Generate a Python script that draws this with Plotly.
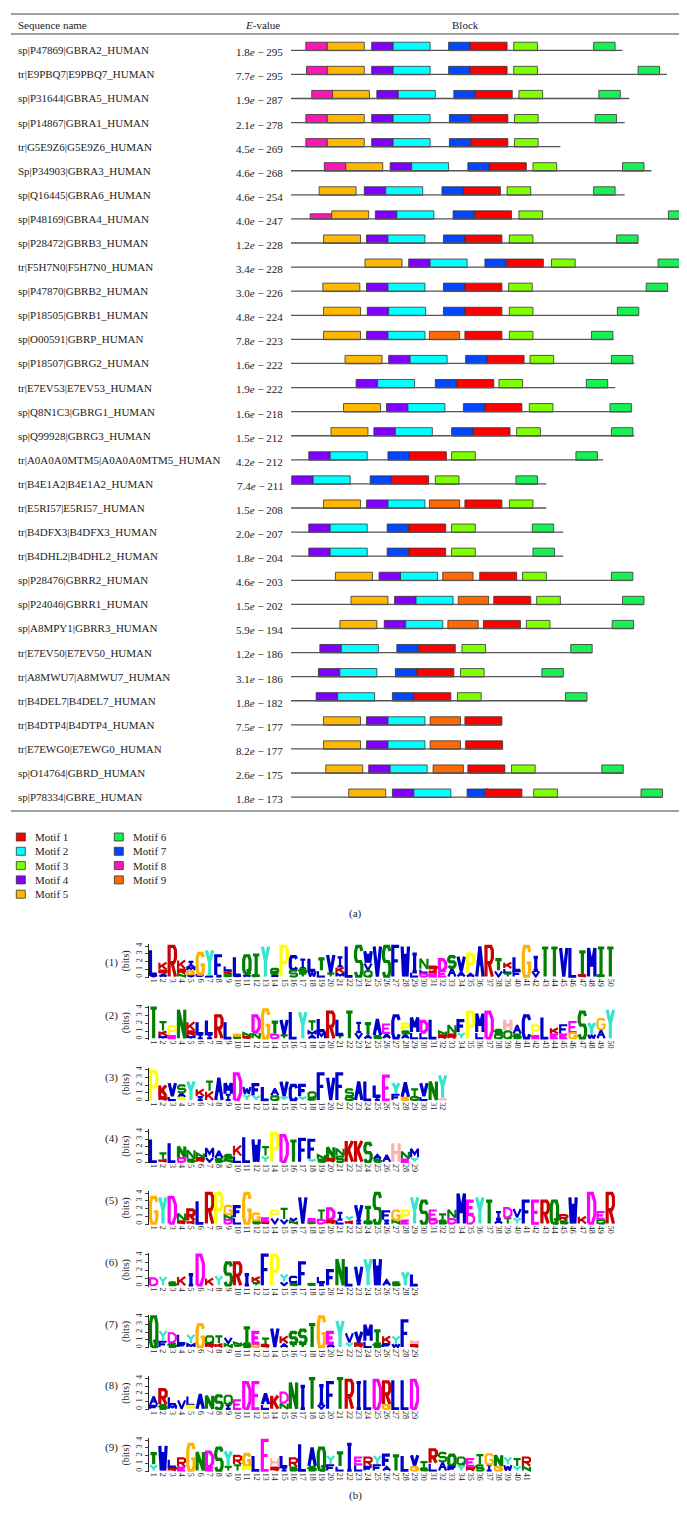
import re
import plotly.graph_objects as go

W, H = 687, 1517
SERIF = "Liberation Serif, Times New Roman, serif"

# ---------------- (a) motif blocks ----------------
seq_names = [
    "sp|P47869|GBRA2_HUMAN", "tr|E9PBQ7|E9PBQ7_HUMAN", "sp|P31644|GBRA5_HUMAN",
    "sp|P14867|GBRA1_HUMAN", "tr|G5E9Z6|G5E9Z6_HUMAN", "Sp|P34903|GBRA3_HUMAN",
    "sp|Q16445|GBRA6_HUMAN", "sp|P48169|GBRA4_HUMAN", "sp|P28472|GBRB3_HUMAN",
    "tr|F5H7N0|F5H7N0_HUMAN", "sp|P47870|GBRB2_HUMAN", "sp|P18505|GBRB1_HUMAN",
    "sp|O00591|GBRP_HUMAN", "sp|P18507|GBRG2_HUMAN", "tr|E7EV53|E7EV53_HUMAN",
    "sp|Q8N1C3|GBRG1_HUMAN", "sp|Q99928|GBRG3_HUMAN", "tr|A0A0A0MTM5|A0A0A0MTM5_HUMAN",
    "tr|B4E1A2|B4E1A2_HUMAN", "tr|E5RI57|E5RI57_HUMAN", "tr|B4DFX3|B4DFX3_HUMAN",
    "tr|B4DHL2|B4DHL2_HUMAN", "sp|P28476|GBRR2_HUMAN", "sp|P24046|GBRR1_HUMAN",
    "sp|A8MPY1|GBRR3_HUMAN", "tr|E7EV50|E7EV50_HUMAN", "tr|A8MWU7|A8MWU7_HUMAN",
    "tr|B4DEL7|B4DEL7_HUMAN", "tr|B4DTP4|B4DTP4_HUMAN", "tr|E7EWG0|E7EWG0_HUMAN",
    "sp|O14764|GBRD_HUMAN", "sp|P78334|GBRE_HUMAN",
]
e_values = [
    "1.8e-295", "7.7e-295", "1.9e-287", "2.1e-278", "4.5e-269", "4.6e-268", "4.6e-254",
    "4.0e-247", "1.2e-228", "3.4e-228", "3.0e-226", "4.8e-224", "7.8e-223", "1.6e-222",
    "1.9e-222", "1.6e-218", "1.5e-212", "4.2e-212", "7.4e-211", "1.5e-208", "2.0e-207",
    "1.8e-204", "4.6e-203", "1.5e-202", "5.9e-194", "1.2e-186", "3.1e-186", "1.8e-182",
    "7.5e-177", "8.2e-177", "2.6e-175", "1.8e-173",
]
seq_len = [448, 508, 457, 451, 364, 487, 451, 555, 469, 526, 508, 469, 436, 464, 438, 460,
           464, 422, 345, 345, 368, 368, 461, 475, 463, 406, 367, 400, 284, 284, 448, 500]

motif_len = [50, 50, 32, 29, 50, 29, 29, 29, 41]
motif_color = ["#FF0000", "#00FFFF", "#80FF00", "#8000FF", "#FFB800",
               "#19F055", "#0047FF", "#FF14B4", "#FF6A00"]

N_ = None
m1_start = [242, 242, 249, 243, 243, 268, 233, 248, 235, 291, 235, 235, 235, 265, 224, 262,
            246, 160, 136, 235, 159, 159, 255, 274, 260, 172, 170, 166, 235, 236, 239, 262]
m2_start = [138, 138, 145, 138, 138, 163, 128, 143, 131, 188, 131, 132, 131, 161, 117, 158,
            141, 53, 30, 131, 53, 53, 148, 169, 155, 68, 66, 63, 131, 131, 134, 166]
m3_start = [301, 301, 308, 302, 302, 327, 292, 308, 295, 352, 294, 295, 295, 323, 281, 322,
            305, 217, 195, 295, 217, 217, 313, 332, 318, 231, 229, 225, N_, N_, 298, 328]
m4_start = [109, 109, 116, 109, 109, 134, 99, 114, 102, 159, 102, 103, 102, 132, 88, 129,
            112, 24, 1, 102, 24, 24, 119, 140, 126, 39, 37, 34, 102, 102, 105, 137]
m5_start = [49, 49, 56, 49, 49, 74, 38, 55, 44, 100, 43, 44, 44, 73, N_, 71,
            54, N_, N_, 44, N_, N_, 60, 81, 66, N_, N_, N_, 44, 44, 47, 78]
m6_start = [409, 469, 416, 411, N_, 448, 409, 510, 440, 496, 480, 441, 406, 433, 399, 431,
            433, 385, 304, N_, 326, 327, 433, 448, 434, 378, 339, 371, N_, N_, 420, 473]
m7_start = [213, 213, 220, 214, 214, 239, 204, 219, 206, 262, 206, 206, N_, 236, 195, 233,
            217, 131, 107, N_, 130, 130, N_, N_, N_, 143, 141, 137, N_, N_, N_, 238]
m8_start = [20, 21, 28, 20, 20, 45, N_, 26] + [N_] * 24
m9_start = [N_] * 12 + [187] + [N_] * 6 + [187] + [N_] * 2 + [205, 226, 212] + [N_] * 3 + [188, 188, 192, N_]
motif_starts = [m1_start, m2_start, m3_start, m4_start, m5_start,
                m6_start, m7_start, m8_start, m9_start]
box_frac = {(8, 7): 0.65}          # the short motif-8 box of GBRA4
draw_order = [8, 5, 4, 2, 7, 9, 1, 3, 6]

# ---------------- (b) sequence logos (letters bottom -> top, bits) ----------------
logo1 = ["V.3L3.2", "A.4R.5K1", "R4", "N.4R.6K1.2", "V.3G.5M.6I.6", "F.3G2.8", "L.2Y3.3",
         "I.2F2.6", "S.3K.5L.6", "F.2L2.4", "A.4Q2.4", "S.3T2.6", "Y4", "A.3S.3Q.5", "P4",
         "S.9C1.8", "T.5S.6I1.2", "W.8L1.6", "L.8T1.6", "T.5V2.4", "M.5K.8I1.3", "L4", "S4",
         "Q.8V1W1.6", "V4", "S4", "F4", "W4", "L.6I2.4", "D.5L.5N1.4", "E.4K.5R.5", "E.8D1.5",
         "A1.2S1.5", "A.7V2", "A.5P2.5", "A4", "R4", "V.8T1.5", "T.5L.6K.8", "F.8L1.8", "G4",
         "V.8I1.8", "T3.8", "T3.8", "V3.8", "L3.8", "R.3T3", "M3.8", "S.3T3.5", "T3.8"]
logo2 = ["T4", "M.4K.6T1.2", "E.4P1.3", "N3.8", "M.4R.6K1.2", "I.6L1.6", "I.6L1.8", "R3",
         "L2.2", "S.3G.3", "R.3N.5", "N.8D2.2", "G3.8", "D.6T1.6", "T.5V2", "L3.5", "Y3.5",
         "A.5M.5T1.3", "M1L1.6", "R3.5", "T.5L2", "T3.5", "V.8I1.3", "A.5T1.5", "S.4A2.2",
         "A.7E1.2", "C3", "A.6S.4P1", "L.8M2", "L.8D1.5", "L2.5", "R.5N.5", "R.6N1.2",
         "Y.8F1.6", "P3.5", "L.8M2.5", "D3.5", "Q.6S.6", "Q1H1.5", "S.6A1.2", "C3", "E.4P1.4",
         "L2.8", "E.6K.8", "E.6F1.2", "G.8E1.4", "S3.5", "W.6Y1.5", "A1.2G1.4", "Y3.8"]
logo3 = ["P3.8", "R.5K1.5", "L.5V1.8", "P.4A.6S1", "Y2.5", "I.5K1", "K1.2T1.3", "A3",
         "I.8M1.5", "D3.5", "Y.8W1", "Y.6F1.5", "L1.8", "Q.6A1", "Y.5V2", "C2", "Y.5F1.5",
         "S.3Q.8", "F3.5", "V3", "F3.5", "Q.5S1", "A2.5", "L2.5", "I.5L1.5", "E3.2", "F.8Y1.5",
         "G.4A2", "Q.5T1", "L.5V1.8", "N2.5", "H.3Y3"]
logo4 = ["L3", "K.4T.8", "L2.5", "D.6N1.5", "S.4N1.2", "R.6N.6", "V.6M1.3", "S.5A1", "N.4S.6",
         "L.8K1.4", "L3.3", "W3", "Y.8T1.2", "P3.8", "D3.5", "T2.8", "F3", "Y.4F2.5", "S.4N.6",
         "R.5N1.5", "S.8N1", "K2.8", "K2.8", "S2.5", "S.4A.6", "A1", "H2.5", "E.4N1", "Y.6M1.2"]
logo5 = ["G3.5", "Y3.5", "D3.5", "R.4N1", "K.4R1.5", "L3", "R4", "P4", "D.6N.6G1.2", "L.8F1.5",
         "G4", "S.4G1", "R.3E.5", "V.8P1", "V.6T1.4", "N.4V.4", "V3.5", "S.3E.4", "D.6T1.2",
         "R.5D1.5", "L.5I1", "K.4Y.6", "I.5V2", "Q.4T1.8", "S4", "I.5F1.2", "N.5G1.3",
         "E.5P1.3", "Y3.5", "S3", "D.6E1.2", "S.5T.8", "D.7N1.2", "M4", "D1.2E1.8", "Y3.5",
         "T3", "A.6I1", "T.8D1.3", "Y.8V1.2", "F3", "E3", "R3", "Q3", "S.4R.8", "W3.5", "K1",
         "D4", "Q.6E1", "R4"]
logo6 = ["D1", "Y1.2", "S.5", "K1.2", "I1.5", "D4", "K1", "Y1.3", "S3", "R3", "I1.5", "T.4K.8",
         "F4", "P4", "V.5Y1", "S.4C.8", "F3", "S.3", "I.4L.8", "F2", "N3.5", "L2.5", "V2.5",
         "Y3.5", "W3.5", "A.8", "S.5", "Y1.8", "L1.5"]
logo7 = ["Q4", "F.8Y1.4", "S.6D1.3", "F.5L1.2", "M.5Y1.2", "G3", "R.5Q1", "K.5T1", "N.5V.8",
         "T.3N.4", "S.6T2", "G.5E1.5", "R.4T.8", "V2.5", "A.5K1", "T.5S1.5", "T.5S1.8", "T3",
         "G4", "A.5E1.5", "Y3.5", "Y.6V1.3", "R.6V1.5", "L.8M2.2", "S.6T1.6", "F.5K1",
         "W.5Y1", "F3.5", "R.4H.6"]
logo8 = ["F.5A1.2", "S.6R2", "M.6L1", "V1.2", "P.5L1.2", "A2", "N1.8", "S1.8", "I.6Q1.2",
         "E1.2", "D3.5", "E3.5", "L.6A1.5", "K1.8", "N.8D1.4", "N3.5", "I3", "T4", "V.6I2.5",
         "F3.5", "T4", "R3.8", "I3.5", "L3.8", "D3.8", "G.6R3", "L3.8", "L3.8", "D3.8"]
logo9 = ["Y.8T1.5", "W3.3", "R.5L1", "E.5R1.2", "G3.5", "N2.5", "E.5D2", "S3", "T.6Y2",
         "T.8R1.2", "P.6G1.6", "L2", "E4", "R.5H1.2", "I.5L1.5", "S.5R1.2", "L3.5", "S.6A2.5",
         "Q3", "F.8Y1.2", "L.6T1.8", "I3.5", "L.8E1", "F.6R1.2", "F.8Y1.2", "A.6F1.5", "T2",
         "L2", "G.6V1.5", "S.4T.8", "L1R1.8", "A1.2S1.2", "F.6Q1.5", "Y.8Q1", "R.6E1",
         "S.8T1.3", "I.8G1.4", "G.6N1.5", "W.8Y1", "Y.6T1", "N.6R1.2"]
logos = [logo1, logo2, logo3, logo4, logo5, logo6, logo7, logo8, logo9]

AA_COLOR = {}
for aa in "ACFILVWM":
    AA_COLOR[aa] = "#0000CC"
for aa in "NQST":
    AA_COLOR[aa] = "#008000"
for aa in "DE":
    AA_COLOR[aa] = "#FF00FF"
for aa in "KR":
    AA_COLOR[aa] = "#CC0000"
AA_COLOR.update({"G": "#FFB300", "P": "#FFFF00", "Y": "#33E6CC", "H": "#FFB0B0"})

# simple stroke font in a unit box
GLYPHS = {
    "A": [[(0, 0), (0.5, 1), (1, 0)], [(0.22, 0.42), (0.78, 0.42)]],
    "C": [[(1, 0.82), (0.8, 1), (0.2, 1), (0, 0.78), (0, 0.22), (0.2, 0), (0.8, 0), (1, 0.18)]],
    "D": [[(0, 0), (0, 1), (0.6, 1), (1, 0.72), (1, 0.28), (0.6, 0), (0, 0)]],
    "E": [[(1, 1), (0, 1), (0, 0), (1, 0)], [(0, 0.5), (0.8, 0.5)]],
    "F": [[(1, 1), (0, 1), (0, 0)], [(0, 0.52), (0.8, 0.52)]],
    "G": [[(1, 0.82), (0.8, 1), (0.2, 1), (0, 0.78), (0, 0.22), (0.2, 0), (0.8, 0), (1, 0.2),
           (1, 0.45), (0.55, 0.45)]],
    "H": [[(0, 0), (0, 1)], [(1, 0), (1, 1)], [(0, 0.5), (1, 0.5)]],
    "I": [[(0.5, 0), (0.5, 1)], [(0.15, 1), (0.85, 1)], [(0.15, 0), (0.85, 0)]],
    "K": [[(0, 0), (0, 1)], [(1, 1), (0, 0.35)], [(0.35, 0.58), (1, 0)]],
    "L": [[(0, 1), (0, 0), (1, 0)]],
    "M": [[(0, 0), (0, 1), (0.5, 0.35), (1, 1), (1, 0)]],
    "N": [[(0, 0), (0, 1), (1, 0), (1, 1)]],
    "P": [[(0, 0), (0, 1), (0.75, 1), (1, 0.88), (1, 0.6), (0.75, 0.46), (0, 0.46)]],
    "Q": [[(0.2, 0), (0, 0.22), (0, 0.78), (0.2, 1), (0.8, 1), (1, 0.78), (1, 0.22), (0.8, 0),
           (0.2, 0)], [(0.6, 0.25), (1, -0.05)]],
    "R": [[(0, 0), (0, 1), (0.75, 1), (1, 0.88), (1, 0.6), (0.75, 0.46), (0, 0.46)],
          [(0.45, 0.46), (1, 0)]],
    "S": [[(1, 0.85), (0.8, 1), (0.2, 1), (0, 0.82), (0, 0.62), (0.2, 0.5), (0.8, 0.5),
           (1, 0.38), (1, 0.18), (0.8, 0), (0.2, 0), (0, 0.15)]],
    "T": [[(0, 1), (1, 1)], [(0.5, 1), (0.5, 0)]],
    "V": [[(0, 1), (0.5, 0), (1, 1)]],
    "W": [[(0, 1), (0.22, 0), (0.5, 0.75), (0.78, 0), (1, 1)]],
    "Y": [[(0, 1), (0.5, 0.5), (1, 1)], [(0.5, 0.5), (0.5, 0)]],
}


def px(x):
    return x / W


def py(y):
    return 1 - y / H


fig = go.Figure()

# backbone lines
lx, ly = [], []
for i, L in enumerate(seq_len):
    lx += [0, L, None]
    ly += [i, i, None]
fig.add_trace(go.Scatter(x=lx, y=ly, mode="lines", line=dict(color="#555555", width=1.3),
                         hoverinfo="skip", showlegend=False))

for m in draw_order:
    starts = motif_starts[m - 1]
    ys = [i for i, s in enumerate(starts) if s is not None]
    fr = [box_frac.get((m, i), 1.0) for i in ys]
    fig.add_trace(go.Bar(
        orientation="h", y=ys, base=[starts[i] for i in ys], x=[motif_len[m - 1]] * len(ys),
        width=[0.35 * f for f in fr], offset=[0.015 - 0.35 * f for f in fr],
        marker=dict(color=motif_color[m - 1], line=dict(color="#333333", width=0.8)),
        showlegend=False, hoverinfo="skip"))

ROW0, ROWH, A_BOTTOM = 42.3, 24.09, 830
layout = dict(
    width=W, height=H, margin=dict(l=0, r=0, t=0, b=0),
    paper_bgcolor="white", plot_bgcolor="white", showlegend=False, barmode="overlay",
    font=dict(family=SERIF, size=11, color="#222222"),
    xaxis=dict(domain=[px(283), 1], range=[0, (W - 283) / 0.74], visible=False),
    yaxis=dict(domain=[py(A_BOTTOM), 1], visible=False,
               range=[(A_BOTTOM - ROW0) / ROWH, -ROW0 / ROWH]),
)

annotations = []
shapes = []
for i, (nm, ev) in enumerate(zip(seq_names, e_values)):
    annotations.append(dict(x=px(8), xref="paper", y=i, yref="y", text=nm, showarrow=False,
                            xanchor="left", yanchor="middle", font=dict(size=11)))
    mant, ex = ev.split("e-")
    annotations.append(dict(x=px(277), xref="paper", y=i + 0.08, yref="y",
                            text=f"{mant}<i>e</i> \u2212 {ex}", showarrow=False,
                            xanchor="right", yanchor="middle", font=dict(size=11)))

for txt, x, anc in [("Sequence name", 8, "left"), ("<i>E</i>-value", 254, "center"),
                    ("Block", 457, "center")]:
    annotations.append(dict(x=px(x), y=py(17), xref="paper", yref="paper", text=txt,
                            showarrow=False, xanchor=anc, yanchor="middle", font=dict(size=11)))

for yy in [6, 26, 803]:
    shapes.append(dict(type="line", xref="paper", yref="paper", x0=px(3), x1=px(685),
                       y0=py(yy), y1=py(yy), line=dict(color="#808080", width=1.5)))

# legend
for m in range(1, 10):
    col, r = (m - 1) // 5, (m - 1) % 5
    yc = 829 + 14.3 * r
    x0 = 8.3 + 98 * col
    shapes.append(dict(type="rect", xref="paper", yref="paper", x0=px(x0), x1=px(x0 + 9),
                       y0=py(yc - 4), y1=py(yc + 4), fillcolor=motif_color[m - 1],
                       line=dict(color="#333333", width=0.8)))
    annotations.append(dict(x=px(x0 + 17), y=py(yc), xref="paper", yref="paper",
                            text=f"Motif {m}", showarrow=False, xanchor="left",
                            yanchor="middle", font=dict(size=11)))

annotations.append(dict(x=px(347), y=py(906), xref="paper", yref="paper", text="(a)",
                        showarrow=False, font=dict(size=11)))
annotations.append(dict(x=px(347), y=py(1496), xref="paper", yref="paper", text="(b)",
                        showarrow=False, font=dict(size=11)))

# logos
COLW, BITPX = 9.32, 7.75
YLO, YHI = -0.1, 4.25
for k, logo in enumerate(logos):
    n = len(logo)
    base_px = 969 + 61.75 * k
    xa, ya = f"xaxis{k + 2}", f"yaxis{k + 2}"
    layout[xa] = dict(domain=[px(141), px(141 + COLW * n)], range=[0.5, n + 0.5],
                      anchor=f"y{k + 2}", tickmode="array", tickvals=list(range(1, n + 1)),
                      tickangle=90, tickfont=dict(size=8), showgrid=False, zeroline=False,
                      showline=False, ticks="", fixedrange=True)
    layout[ya] = dict(domain=[py(base_px - YLO * BITPX), py(base_px - YHI * BITPX)],
                      range=[YLO, YHI], anchor=f"x{k + 2}", tickmode="array",
                      tickvals=[0, 1, 2, 3, 4], tickangle=-90, tickfont=dict(size=8),
                      ticks="outside", ticklen=3, showline=True, linecolor="#222222",
                      linewidth=1, showgrid=False, zeroline=False,
                      title=dict(text="(bits)", font=dict(size=10), standoff=3))
    annotations.append(dict(x=px(95), y=py(base_px - 15), xref="paper", yref="paper",
                            text=f"({k + 1})", showarrow=False, font=dict(size=11)))

    # strokes grouped by (colour, big/small) so tall letters get a heavier pen
    strokes = {}
    for p, col in enumerate(logo, start=1):
        y0 = 0.0
        for aa, h in re.findall(r"([A-Z])(\d*\.?\d+)", col):
            h = float(h)
            if h >= 0.15 and aa in GLYPHS:
                big = h >= 1.5
                half = 0.34 if big else 0.38
                sx, sy = strokes.setdefault((AA_COLOR[aa], big), ([], []))
                for seg in GLYPHS[aa]:
                    for gx, gy in seg:
                        sx.append(p - half + 2 * half * gx)
                        sy.append(y0 + 0.06 + (h - 0.12) * gy)
                    sx.append(None)
                    sy.append(None)
            y0 += h
    for (colr, big), (sx, sy) in strokes.items():
        fig.add_trace(go.Scatter(x=sx, y=sy, mode="lines", xaxis=f"x{k + 2}",
                                 yaxis=f"y{k + 2}",
                                 line=dict(color=colr, width=3.2 if big else 2.2),
                                 hoverinfo="skip", showlegend=False))

layout["annotations"] = annotations
layout["shapes"] = shapes
fig.update_layout(**layout)
fig.write_html("out.html")
